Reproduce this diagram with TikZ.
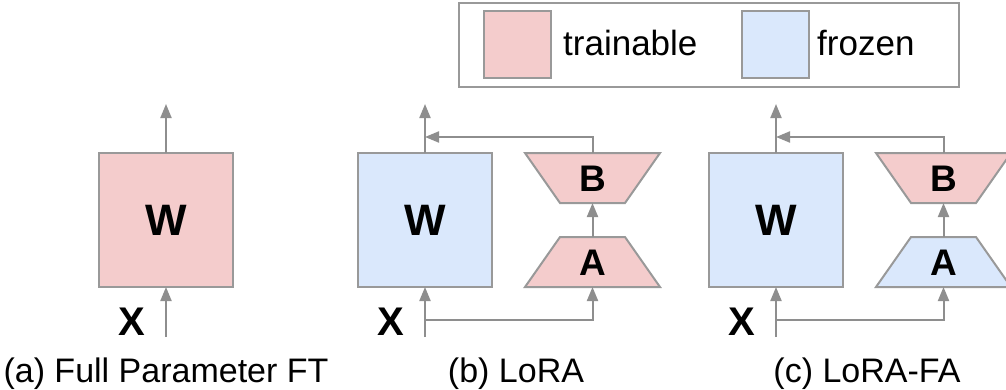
\documentclass[tikz,border=0pt]{standalone}
\usepackage{fontspec}
\setmainfont{Liberation Sans}
\usetikzlibrary{shapes.geometric,arrows.meta}

\definecolor{trainpink}{HTML}{F4CCCC}
\definecolor{frozenblue}{HTML}{DAE8FC}
\definecolor{boxgray}{HTML}{999999}
\definecolor{arrowgray}{HTML}{8E8E8E}

\begin{document}
\begin{tikzpicture}[x=1pt, y=-1pt,
    weight/.style={draw=boxgray, line width=2pt, minimum size=134pt, inner sep=0pt, outer sep=0pt,
      font=\fontsize{44}{50}\selectfont\bfseries},
    lowrank/.style={trapezium, trapezium angle=55, trapezium stretches body, draw=boxgray, line width=2pt,
      text height=26pt, text depth=0pt, inner ysep=12pt, inner xsep=0pt,
      minimum width=135pt, outer sep=0pt,
      font=\fontsize{37}{42}\selectfont\bfseries},
    flipped/.style={shape border rotate=180},
    flow/.style={draw=arrowgray, line width=2pt, -{Triangle[length=14pt,width=11pt]}},
    inlabel/.style={anchor=base, inner sep=0pt, font=\fontsize{40}{46}\selectfont\bfseries},
    caption/.style={anchor=base, inner sep=0pt, font=\fontsize{34}{40}\selectfont},
    swatch/.style={draw=boxgray, line width=2pt, minimum size=67pt, inner sep=0pt},
    legendtext/.style={anchor=base west, inner sep=0pt, font=\fontsize{35}{40}\selectfont}]
  \useasboundingbox (0,0) rectangle (1006,389);

  % Leyenda
  \node[draw=boxgray, line width=2pt, minimum width=500pt, minimum height=84pt, inner sep=0pt] (legend) at (709,45) {};
  \node[swatch, fill=trainpink] (swTrain) at (517,44.5) {};
  \node[legendtext] (txtTrain) at (563,55) {trainable};
  \node[swatch, fill=frozenblue] (swFrozen) at (775.5,44.5) {};
  \node[legendtext] (txtFrozen) at (817,55) {frozen};

  % (a) Full Parameter FT
  \node[weight, fill=trainpink] (Wa) at (166,220) {W};
  \coordinate (inA) at (166,337);
  \coordinate (outA) at (166,104);
  \draw[flow] (inA) -- (Wa.south);
  \draw[flow] (Wa.north) -- (outA);
  \node[inlabel] (Xa) at (131.5,335) {X};
  \node[caption] (capA) at (166,382) {(a) Full Parameter FT};

  % (b) LoRA
  \node[weight, fill=frozenblue] (Wb) at (425,220) {W};
  \node[lowrank, fill=trainpink] (Ab) at (592.5,262) {A};
  \node[lowrank, flipped, fill=trainpink] (Bb) at (592.5,178) {B};
  \coordinate (inB) at (425,337);
  \coordinate (forkB) at (425,320);
  \coordinate (joinB) at (425,137);
  \coordinate (outB) at (425,104);
  \draw[flow] (inB) -- (Wb.south);
  \draw[flow] (forkB) -| (Ab.south);
  \draw[flow] (Ab.north) -- (Bb.south);
  \draw[flow] (Bb.north) |- (joinB);
  \draw[flow] (Wb.north) -- (outB);
  \node[inlabel] (Xb) at (391,335) {X};
  \node[caption] (capB) at (516,382) {(b) LoRA};

  % (c) LoRA-FA
  \node[weight, fill=frozenblue] (Wc) at (776,220) {W};
  \node[lowrank, fill=frozenblue] (Ac) at (943.5,262) {A};
  \node[lowrank, flipped, fill=trainpink] (Bc) at (943.5,178) {B};
  \coordinate (inC) at (776,337);
  \coordinate (forkC) at (776,320);
  \coordinate (joinC) at (776,137);
  \coordinate (outC) at (776,104);
  \draw[flow] (inC) -- (Wc.south);
  \draw[flow] (forkC) -| (Ac.south);
  \draw[flow] (Ac.north) -- (Bc.south);
  \draw[flow] (Bc.north) |- (joinC);
  \draw[flow] (Wc.north) -- (outC);
  \node[inlabel] (Xc) at (741.5,335) {X};
  \node[caption] (capC) at (867,382) {(c) LoRA-FA};
\end{tikzpicture}
\end{document}
